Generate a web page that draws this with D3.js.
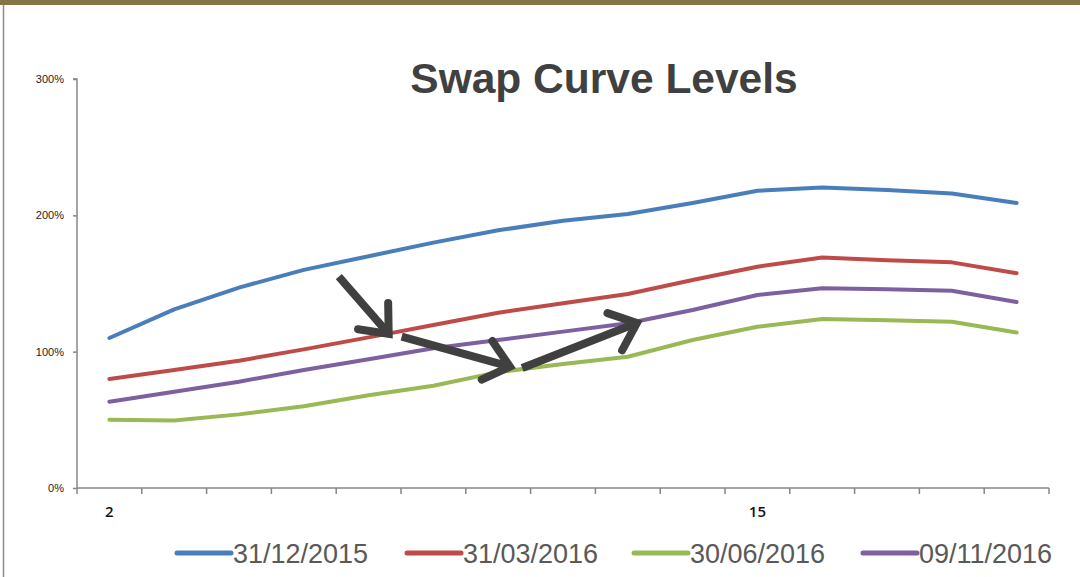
<!DOCTYPE html>
<html>
<head>
<meta charset="utf-8">
<script src="https://cdn.jsdelivr.net/npm/d3@7"></script>
<style>
  body { margin: 0; background: #fff; }
  svg { display: block; font-family: "Liberation Sans", Arial, sans-serif; }
</style>
</head>
<body>
<svg id="chart" width="1080" height="577"></svg>
<script>
// categories (tenor in years) and the label shown under the axis
var tenors = ["2","3","4","5","6","7","8","9","10","12","15","20","25","30","40"];
var shownLabels = ["2","15"];
var yTicks = [0, 100, 200, 300];

// swap levels in %
var dec2015 = [110, 131, 147, 160, 170, 180, 189, 196, 201, 209, 218, 220.5, 218.5, 216, 209];
var mar2016 = [80, 86.6, 93.4, 101.7, 110.5, 119.6, 128.6, 135.5, 142.3, 152.6, 162.3, 169, 167, 165.5, 157.5];
var jun2016 = [50, 49.5, 54, 60, 68, 75, 85, 91, 96.3, 108.6, 118.3, 124, 123, 122, 114];
var nov2016 = [63.3, 70.6, 78, 86.6, 94.4, 102.5, 108.6, 114.7, 120.8, 130.6, 141.6, 146.5, 145.7, 144.7, 136.4];

var seriesNames = ["31/12/2015", "31/03/2016", "30/06/2016", "09/11/2016"];
var seriesValues = [dec2015, mar2016, jun2016, nov2016];
var colors = ["#4a7ebb", "#be4b48", "#98b954", "#7d60a0"];

// annotation arrows, in (category index, %) space
var arrows = [
  [[3.54, 155], [4.31, 113]],
  [[4.51, 111], [6.18, 89]],
  [[6.37, 88], [8.14, 121]]
];

var svg = d3.select("#chart");

// frame: olive band on top and a thin grey rule on the left
svg.append("rect").attr("x", 0).attr("y", 0).attr("width", 1080).attr("height", 5).attr("fill", "#857545");
svg.append("line").attr("x1", 3.5).attr("x2", 3.5).attr("y1", 5).attr("y2", 577)
  .attr("stroke", "#8c8c8c").attr("stroke-width", 1.5);

var margin = {left: 77, right: 1049, top: 79, bottom: 488};

var x = d3.scaleBand().domain(tenors).range([margin.left, margin.right]);
// continuous version of x for the arrows
var xi = d3.scaleLinear().domain([-0.5, tenors.length - 0.5]).range([margin.left, margin.right]);
var y = d3.scaleLinear().domain([0, 300]).range([margin.bottom, margin.top]);

// title
svg.append("text")
  .attr("x", 604).attr("y", 93)
  .attr("text-anchor", "middle")
  .attr("font-size", 42.5).attr("font-weight", "bold")
  .attr("fill", "#404040")
  .text("Swap Curve Levels");

// y axis
var yAxis = svg.append("g")
  .attr("transform", "translate(" + margin.left + ",0)")
  .call(d3.axisLeft(y).tickValues(yTicks).tickSize(4).tickPadding(9).tickFormat(function(d) { return d + "%"; }));
yAxis.selectAll("path, line").attr("stroke", "#868686").attr("stroke-width", 1.5);
yAxis.select(".domain").attr("d", "M-4," + y(300) + "H0V" + y(0));
yAxis.selectAll("text").attr("font-size", 11).attr("fill", "#222").attr("font-family", "Liberation Sans, Arial, sans-serif");

// x axis: tick marks between categories, only some labels
var xAxisG = svg.append("g").attr("transform", "translate(0," + margin.bottom + ")");
xAxisG.append("line")
  .attr("x1", margin.left).attr("x2", margin.right)
  .attr("stroke", "#868686").attr("stroke-width", 1.5);
xAxisG.selectAll("line.tick")
  .data(d3.range(tenors.length + 1))
  .enter().append("line")
  .attr("class", "tick")
  .attr("x1", function(d) { return xi(d - 0.5); })
  .attr("x2", function(d) { return xi(d - 0.5); })
  .attr("y1", 0).attr("y2", 6)
  .attr("stroke", "#868686").attr("stroke-width", 1.5);
xAxisG.selectAll("text")
  .data(shownLabels)
  .enter().append("text")
  .attr("x", function(d) { return x(d) + x.bandwidth() / 2; })
  .attr("y", 29)
  .attr("text-anchor", "middle")
  .attr("font-family", "'Open Sans', sans-serif")
  .attr("font-size", 15).attr("font-weight", 600).attr("fill", "#111")
  .text(function(d) { return d; });

// lines
var line = d3.line()
  .x(function(d, i) { return x(tenors[i]) + x.bandwidth() / 2; })
  .y(function(d) { return y(d); });

svg.selectAll("path.series")
  .data(seriesValues)
  .enter().append("path")
  .attr("class", "series")
  .attr("d", line)
  .attr("fill", "none")
  .attr("stroke", function(d, i) { return colors[i]; })
  .attr("stroke-width", 4)
  .attr("stroke-linecap", "round")
  .attr("stroke-linejoin", "round");

// arrows
arrows.forEach(function(a) {
  var x0 = xi(a[0][0]), y0 = y(a[0][1]);
  var x1 = xi(a[1][0]), y1 = y(a[1][1]);
  var ang = Math.atan2(y1 - y0, x1 - x0);
  var len = 31, spread = 0.7;
  var w1 = [x1 - len * Math.cos(ang - spread), y1 - len * Math.sin(ang - spread)];
  var w2 = [x1 - len * Math.cos(ang + spread), y1 - len * Math.sin(ang + spread)];
  svg.append("line")
    .attr("x1", x0).attr("y1", y0).attr("x2", x1).attr("y2", y1)
    .attr("stroke", "#404040").attr("stroke-width", 8);
  svg.append("path")
    .attr("d", "M" + w1 + "L" + [x1, y1] + "L" + w2)
    .attr("fill", "none")
    .attr("stroke", "#404040").attr("stroke-width", 8)
    .attr("stroke-linecap", "round").attr("stroke-linejoin", "miter");
});

// legend
var legendX = [177, 407, 634, 863];
var legend = svg.selectAll("g.legend")
  .data(seriesNames)
  .enter().append("g")
  .attr("class", "legend")
  .attr("transform", function(d, i) { return "translate(" + legendX[i] + ",553)"; });
legend.append("line")
  .attr("x1", 0).attr("x2", 54)
  .attr("stroke", function(d, i) { return colors[i]; })
  .attr("stroke-width", 5)
  .attr("stroke-linecap", "round");
legend.append("text")
  .attr("x", 56).attr("y", 9.5)
  .attr("font-size", 27).attr("fill", "#595959")
  .text(function(d) { return d; });
</script>
</body>
</html>
